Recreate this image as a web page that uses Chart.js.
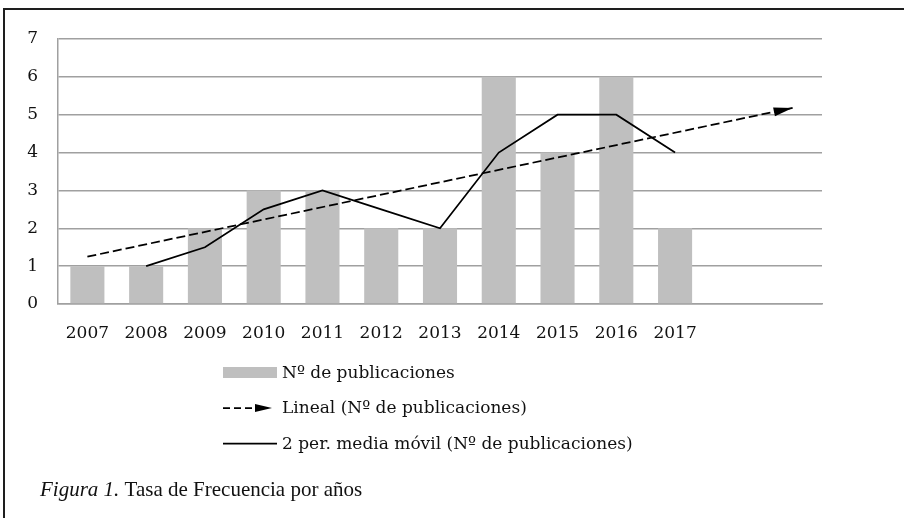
<!DOCTYPE html>
<html lang="es">
<head>
<meta charset="UTF-8">
<title>Tasa de Frecuencia por años</title>
<script src="https://cdn.jsdelivr.net/npm/chart.js@4.4.1/dist/chart.umd.min.js"></script>
<style>
  * { margin: 0; padding: 0; box-sizing: border-box; }
  body { width: 904px; height: 518px; background: #fff; overflow: hidden; position: relative; }
  .frame { position: absolute; left: 3px; top: 8px; width: 920px; height: 530px; border-top: 2px solid #1e1e1e; border-left: 2px solid #1e1e1e; }
  #wrap { position: absolute; left: 0; top: 0; width: 904px; height: 518px; }
</style>
</head>
<body>
<div class="frame"></div>
<div id="wrap"><canvas id="chart" width="904" height="518"></canvas></div>
<script>
// data
const years = ['2007', '2008', '2009', '2010', '2011', '2012', '2013', '2014', '2015', '2016', '2017', '', ''];
const publicaciones = [1, 1, 2, 3, 3, 2, 2, 6, 4, 6, 2, null, null];
const mediaMovil = [null, 1, 1.5, 2.5, 3, 2.5, 2, 4, 5, 5, 4, null, null];
const tendencia = [1.25, null, null, null, null, null, null, null, null, null, null, null, 5.18];
const yTicks = [0, 1, 2, 3, 4, 5, 6, 7];

const seriesNames = ['Nº de publicaciones', 'Lineal (Nº de publicaciones)', '2 per. media móvil (Nº de publicaciones)'];
const caption = ['Figura 1.', ' Tasa de Frecuencia por años'];

const TICK_FONT = { family: 'DejaVu Serif', size: 17 };
const GRID = '#a0a0a0';

function arrowHead(ctx, x, y, angle, len, half) {
  ctx.save();
  ctx.translate(x, y);
  ctx.rotate(angle);
  ctx.beginPath();
  ctx.moveTo(0, 0);
  ctx.lineTo(-len, -half);
  ctx.lineTo(-len, half);
  ctx.closePath();
  ctx.fillStyle = '#000';
  ctx.fill();
  ctx.restore();
}

// arrow at end of trend line, legend + caption drawn under the plot
const extras = {
  id: 'extras',
  afterDatasetsDraw(chart) {
    const ctx = chart.ctx;
    const pts = chart.getDatasetMeta(1).data.filter((p, i) => tendencia[i] !== null);
    const a = pts[0], b = pts[pts.length - 1];
    arrowHead(ctx, b.x, b.y, Math.atan2(b.y - a.y, b.x - a.x), 19, 4.5);
  },
  afterDraw(chart) {
    const ctx = chart.ctx;
    const sx = 223, ex = 277, tx = 282;
    const rows = [372.5, 408, 443.5];
    ctx.save();
    ctx.textBaseline = 'middle';

    // bars
    ctx.fillStyle = '#bfbfbf';
    ctx.fillRect(sx, rows[0] - 5.5, ex - sx, 11);

    // dashed + arrow
    ctx.strokeStyle = '#000';
    ctx.lineWidth = 1.75;
    ctx.setLineDash([7, 4]);
    ctx.beginPath();
    ctx.moveTo(sx, rows[1]);
    ctx.lineTo(258, rows[1]);
    ctx.stroke();
    ctx.setLineDash([]);
    arrowHead(ctx, 272, rows[1], 0, 17, 4);

    // solid
    ctx.beginPath();
    ctx.moveTo(sx, rows[2]);
    ctx.lineTo(ex, rows[2]);
    ctx.stroke();

    ctx.font = '17px "DejaVu Serif"';
    ctx.fillStyle = '#111';
    seriesNames.forEach((t, i) => ctx.fillText(t, tx, rows[i] + 1));

    // caption
    ctx.font = 'italic 21px "Liberation Serif"';
    ctx.fillText(caption[0], 40, 490);
    const w = ctx.measureText(caption[0]).width;
    ctx.font = '21px "Liberation Serif"';
    ctx.fillText(caption[1], 40 + w, 490);
    ctx.restore();
  }
};

new Chart(document.getElementById('chart'), {
  type: 'bar',
  data: {
    labels: years,
    datasets: [
      {
        type: 'bar',
        label: seriesNames[0],
        data: publicaciones,
        backgroundColor: '#bfbfbf',
        barPercentage: 0.58,
        categoryPercentage: 1,
        order: 3,
      },
      {
        type: 'line',
        label: seriesNames[1],
        data: tendencia,
        borderColor: '#000',
        borderWidth: 1.75,
        borderDash: [9, 4],
        pointRadius: 0,
        spanGaps: true,
        order: 2,
      },
      {
        type: 'line',
        label: seriesNames[2],
        data: mediaMovil,
        borderColor: '#000',
        borderWidth: 1.75,
        pointRadius: 0,
        tension: 0,
        order: 1,
      },
    ],
  },
  options: {
    responsive: false,
    animation: false,
    layout: { padding: { left: 0, top: 39, right: 82, bottom: 174 } },
    plugins: {
      legend: { display: false },
      tooltip: { enabled: false },
    },
    scales: {
      x: {
        offset: true,
        grid: { display: false },
        border: { display: true, color: GRID, width: 1.5 },
        ticks: { color: '#111', font: TICK_FONT, padding: 11, maxRotation: 0, autoSkip: false },
        afterFit(s) { s.height = 40; },
      },
      y: {
        min: 0,
        max: 7,
        afterBuildTicks(s) { s.ticks = yTicks.map(v => ({ value: v })); },
        grid: { color: GRID, lineWidth: 1.5, drawTicks: false },
        border: { display: true, color: GRID, width: 1.5 },
        ticks: { color: '#111', font: TICK_FONT, padding: 20 },
        afterFit(s) { s.width = 58; },
      },
    },
  },
  plugins: [extras],
});
</script>
</body>
</html>
